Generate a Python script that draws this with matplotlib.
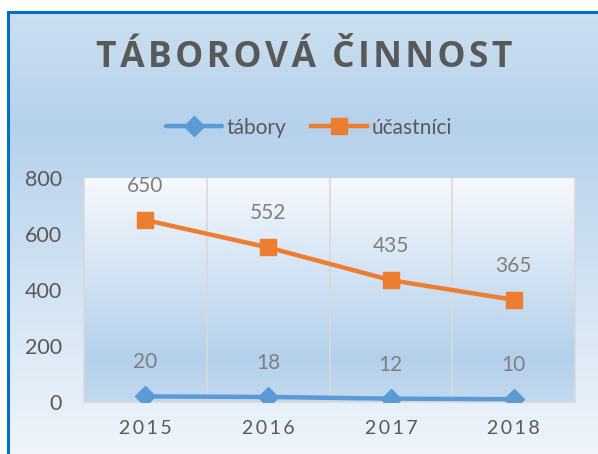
import numpy as np
import matplotlib
matplotlib.use("Agg")
from matplotlib import pyplot as plt
from matplotlib.colors import LinearSegmentedColormap

roky = ["2015", "2016", "2017", "2018"]
tabory = [20, 18, 12, 10]
ucastnici = [650, 552, 435, 365]
y_ticks = [0, 200, 400, 600, 800]

MODRA = "#5B9BD5"
ORANZOVA = "#ED7D31"
SEDA_TEXT = "#595959"
SEDA_POPISKY = "#7F7F7F"

plt.rcParams['font.family'] = ['Lato', 'DejaVu Sans']

fig = plt.figure(figsize=(5.98, 4.54), dpi=100)
fig.patch.set_facecolor("white")

# pozadi grafu (prechod)
bg = fig.add_axes([8 / 598, -0.05, 1.0, (454 - 12) / 454 + 0.05])
pozadi = LinearSegmentedColormap.from_list(
    "pozadi", [(0.0, "#CCDFF1"), (0.25, "#B6D1EB"), (0.55, "#CFE1F2"), (1.0, "#F3F7FC")])
bg.imshow(np.linspace(0, 1, 256).reshape(-1, 1), aspect="auto", cmap=pozadi,
          extent=[0, 1, 0, 1], origin="upper")
bg.set_xlim(0, 1)
bg.set_ylim(0, 1)
bg.set_xticks([])
bg.set_yticks([])
for s in ["right", "bottom"]:
    bg.spines[s].set_visible(False)
for s in ["left", "top"]:
    bg.spines[s].set_color("#0070C0")
    bg.spines[s].set_linewidth(2.2)

ax = fig.add_axes([84 / 598, 52 / 454, 491 / 598, 224 / 454])
ax.set_facecolor("none")
plocha = LinearSegmentedColormap.from_list(
    "plocha", [(0.0, "#F6F9FD"), (0.8, "#B4D0EB"), (1.0, "#C2D9EF")])
ax.imshow(np.linspace(0, 1, 256).reshape(-1, 1), aspect="auto", cmap=plocha,
          extent=[-0.5, 3.5, 0, 800], origin="upper", zorder=0)

x = np.arange(len(roky))
ax.plot(x, tabory, color=MODRA, lw=3.2, marker="D", markersize=10,
        label="tábory", zorder=3, solid_capstyle="round")
ax.plot(x, ucastnici, color=ORANZOVA, lw=3.2, marker="s", markersize=12,
        label="účastníci", zorder=3)

for xi, v in zip(x, tabory):
    ax.annotate(str(v), (xi, v), xytext=(0, 24.5), textcoords="offset points",
                ha="center", va="center", fontsize=15, color=SEDA_POPISKY)
for xi, v in zip(x, ucastnici):
    ax.annotate(str(v), (xi, v), xytext=(0, 24.5), textcoords="offset points",
                ha="center", va="center", fontsize=15, color=SEDA_POPISKY)

ax.set_xlim(-0.5, 3.5)
ax.set_ylim(0, 800)
ax.set_yticks(y_ticks)
ax.set_yticklabels([str(t) for t in y_ticks], fontsize=15.5, color=SEDA_TEXT)
ax.set_xticks(x)
ax.set_xticklabels(["\u2009".join(r) for r in roky], fontsize=14, color=SEDA_TEXT)
ax.tick_params(axis="y", length=0, pad=16)
ax.tick_params(axis="x", length=0, pad=13)
for xv in [0.5, 1.5, 2.5]:
    ax.axvline(xv, color="#D9D9D9", lw=1.2, zorder=1)
for s in ["left", "right", "bottom"]:
    ax.spines[s].set_color("#D9D9D9")
    ax.spines[s].set_linewidth(1.2)
ax.spines["top"].set_visible(False)

fig.text(304 / 598, 1 - 58 / 454, "\u200a".join("TÁBOROVÁ ČINNOST"),
         ha="center", va="center", fontsize=25.5, fontweight="bold", color=SEDA_TEXT,
         family=["Open Sans", "DejaVu Sans"])

leg = ax.legend(loc="center", bbox_to_anchor=(0.458, 1.225), ncol=2, frameon=False,
                fontsize=15, handlelength=2.7, handletextpad=0.2, columnspacing=1.2)
for t in leg.get_texts():
    t.set_color(SEDA_TEXT)

fig.savefig("out.png", dpi=100)
